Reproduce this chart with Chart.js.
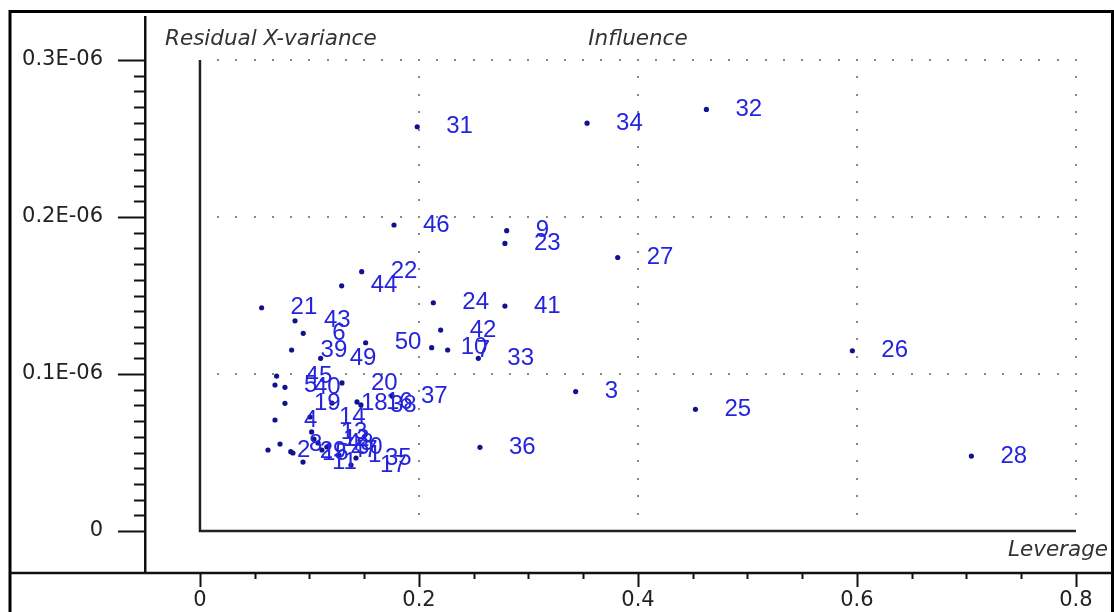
<!DOCTYPE html>
<html>
<head>
<meta charset="utf-8">
<script src="https://cdn.jsdelivr.net/npm/chart.js@4.4.0/dist/chart.umd.min.js"></script>
<style>
html, body { margin: 0; padding: 0; background: #fff; }
canvas { display: block; }
</style>
</head>
<body>
<canvas id="myChart" width="1114" height="612"></canvas>
<script>
// sample numbers shown next to each point
var pointLabels = ['1','2','3','4','5','6','7','8','9','10',
                   '11','12','13','14','15','16','17','18','19','20',
                   '21','22','23','24','25','26','27','28','29','30',
                   '31','32','33','34','35','36','37','38','39','40',
                   '41','42','43','44','45','46','47','48','49','50'];

// Leverage (x)
var leverage = [0.1269, 0.0621, 0.3431, 0.0685, 0.0685, 0.0943, 0.2262, 0.0731, 0.2801, 0.2116,
                0.0941, 0.1041, 0.1020, 0.1005, 0.0849, 0.1434, 0.1379, 0.1205, 0.0776, 0.1297,
                0.0563, 0.1477, 0.2785, 0.2131, 0.4525, 0.5958, 0.3815, 0.7045, 0.0829, 0.1160,
                0.1984, 0.4625, 0.2542, 0.3535, 0.1425, 0.2557, 0.1753, 0.1470, 0.0837, 0.0776,
                0.2785, 0.2198, 0.0868, 0.1294, 0.0700, 0.1772, 0.1114, 0.1078, 0.1102, 0.1513];

// Residual X-variance (y), in units of 1E-06
var residXVar = [0.0484, 0.0516, 0.0888, 0.0707, 0.0930, 0.1259, 0.1153, 0.0554, 0.1913, 0.1168,
                 0.0439, 0.0586, 0.0631, 0.0726, 0.0497, 0.0822, 0.0420, 0.0815, 0.0813, 0.0943,
                 0.1422, 0.1652, 0.1832, 0.1454, 0.0775, 0.1148, 0.1742, 0.0477, 0.0505, 0.0535,
                 0.2575, 0.2685, 0.1100, 0.2598, 0.0465, 0.0533, 0.0860, 0.0803, 0.1153, 0.0915,
                 0.1433, 0.1280, 0.1339, 0.1562, 0.0987, 0.1949, 0.0516, 0.0561, 0.1100, 0.1199];

var xTickValues = [0, 0.2, 0.4, 0.6, 0.8];
var xTickLabels = ['0', '0.2', '0.4', '0.6', '0.8'];
var yTickValues = [0, 0.1, 0.2, 0.3];
var yTickLabels = ['0', '0.1E-06', '0.2E-06', '0.3E-06'];

var AXIS_FONT = '"DejaVu Sans", Verdana, sans-serif';
var LABEL_FONT = 'Arial, "Liberation Sans", sans-serif';

// frame, dotted grid, inner axes, tick marks, titles and point labels
var influencePlugin = {
  id: 'influencePlugin',
  beforeDatasetsDraw: function(chart) {
    var ctx = chart.ctx;
    var xs = chart.scales.x, ys = chart.scales.y;
    var area = chart.chartArea;
    ctx.save();

    // outer frame
    ctx.strokeStyle = '#000';
    ctx.lineWidth = 3;
    ctx.beginPath();
    ctx.moveTo(10, 612);
    ctx.lineTo(10, 11.5);
    ctx.lineTo(1112.5, 11.5);
    ctx.lineTo(1112.5, 612);
    ctx.stroke();

    // bottom axis line, runs from the frame to the right edge
    ctx.lineWidth = 2.5;
    ctx.strokeStyle = '#111';
    ctx.beginPath();
    ctx.moveTo(10, area.bottom);
    ctx.lineTo(1112, area.bottom);
    ctx.stroke();

    // y tick marks: minor every 0.01, major every 0.1
    ctx.lineWidth = 2;
    for (var k = 0; k <= 30; k++) {
      var py = Math.round(ys.getPixelForValue(k / 100)) + 0.5;
      var len = (k % 10 === 0) ? 27 : 11;
      ctx.beginPath();
      ctx.moveTo(area.left - len, py);
      ctx.lineTo(area.left, py);
      ctx.stroke();
    }
    // x tick marks: minor every 0.05, major every 0.2
    for (var j = 0; j <= 16; j++) {
      var px = Math.round(xs.getPixelForValue(j * 0.05)) + 0.5;
      var l2 = (j % 4 === 0) ? 14 : 6;
      ctx.beginPath();
      ctx.moveTo(px, area.bottom);
      ctx.lineTo(px, area.bottom + l2);
      ctx.stroke();
    }

    // dotted grid
    ctx.fillStyle = '#888';
    var x0 = xs.getPixelForValue(0), x8 = xs.getPixelForValue(0.8);
    var y0 = ys.getPixelForValue(0), y3 = ys.getPixelForValue(0.3);
    [0.1, 0.2, 0.3].forEach(function(v) {
      var gy = ys.getPixelForValue(v);
      for (var i = 1; i <= 48; i++) {
        var gx = xs.getPixelForValue(i / 60);
        ctx.fillRect(Math.round(gx) - 1, Math.round(gy) - 1, 2, 2);
      }
    });
    [0.2, 0.4, 0.6, 0.8].forEach(function(v) {
      var gx = xs.getPixelForValue(v);
      for (var i = 1; i <= 27; i++) {
        var gy = ys.getPixelForValue(i / 90);
        ctx.fillRect(Math.round(gx) - 1, Math.round(gy) - 1, 2, 2);
      }
    });

    // inner L-shaped axes
    ctx.strokeStyle = '#222';
    ctx.lineWidth = 2.5;
    ctx.beginPath();
    ctx.moveTo(x0, y3);
    ctx.lineTo(x0, y0);
    ctx.lineTo(x8, y0);
    ctx.stroke();

    // titles
    ctx.fillStyle = '#333';
    ctx.font = 'italic 21.5px ' + AXIS_FONT;
    ctx.textBaseline = 'middle';
    ctx.textAlign = 'left';
    ctx.fillText('Residual X-variance', area.left + 20, 39);
    ctx.textAlign = 'center';
    ctx.fillText('Influence', xs.getPixelForValue(0.4), 39);
    ctx.textAlign = 'right';
    ctx.fillText('Leverage', 1108, 550);

    ctx.restore();
  },
  afterDatasetsDraw: function(chart) {
    var ctx = chart.ctx;
    var meta = chart.getDatasetMeta(0);
    ctx.save();
    ctx.fillStyle = '#2424dc';
    ctx.font = '24px ' + LABEL_FONT;
    ctx.textAlign = 'left';
    ctx.textBaseline = 'middle';
    meta.data.forEach(function(pt, i) {
      ctx.fillText(pointLabels[i], pt.x + 29, pt.y);
    });
    ctx.restore();
  }
};

var ctx = document.getElementById('myChart').getContext('2d');
var chart = new Chart(ctx, {
  type: 'scatter',
  data: {
    datasets: [{
      label: 'Influence',
      data: leverage.map(function(x, i) { return { x: x, y: residXVar[i] }; }),
      backgroundColor: '#12128c',
      borderWidth: 0,
      pointRadius: 2.6,
      pointHoverRadius: 2.6
    }]
  },
  options: {
    responsive: false,
    animation: false,
    layout: { padding: { left: 0, right: 3, top: 17, bottom: 0 } },
    plugins: {
      legend: { display: false },
      tooltip: { enabled: false }
    },
    scales: {
      x: {
        type: 'linear',
        min: -0.0502,
        max: 0.832,
        afterBuildTicks: function(s) { s.ticks = xTickValues.map(function(v) { return { value: v }; }); },
        afterFit: function(s) {
          s.height = 39;
          s.paddingLeft = 0; s.paddingRight = 0; s.paddingTop = 0; s.paddingBottom = 0;
        },
        ticks: {
          callback: function(v, i) { return xTickLabels[i]; },
          autoSkip: false,
          maxRotation: 0,
          padding: 15,
          color: '#222',
          font: { size: 21, family: AXIS_FONT }
        },
        grid: { display: false, drawTicks: false },
        border: { display: false }
      },
      y: {
        type: 'linear',
        min: -0.02675,
        max: 0.3274,
        afterBuildTicks: function(s) { s.ticks = yTickValues.map(function(v) { return { value: v }; }); },
        afterFit: function(s) {
          s.width = 145;
          s.paddingLeft = 0; s.paddingRight = 0; s.paddingTop = 0; s.paddingBottom = 0;
        },
        ticks: {
          callback: function(v, i) { return yTickLabels[i]; },
          autoSkip: false,
          padding: 42,
          color: '#222',
          font: { size: 21, family: AXIS_FONT }
        },
        grid: { display: false, drawTicks: false },
        border: { display: true, color: '#111', width: 2.5 }
      }
    }
  },
  plugins: [influencePlugin]
});
</script>
</body>
</html>
